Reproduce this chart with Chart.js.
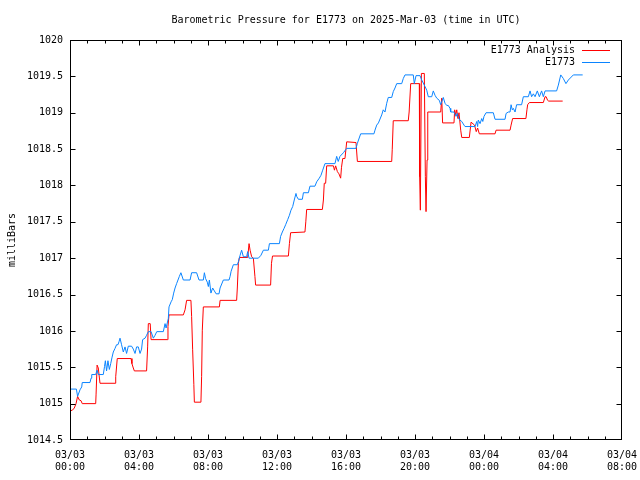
<!DOCTYPE html>
<html>
<head>
<meta charset="utf-8">
<script src="https://cdn.jsdelivr.net/npm/chart.js@4.4.1/dist/chart.umd.min.js"></script>
<style>
  html, body { margin: 0; padding: 0; background: #fff; }
  #wrap { width: 640px; height: 480px; position: relative; }
</style>
</head>
<body>
<div id="wrap"><canvas id="chart" width="640" height="480"></canvas></div>
<script>
// hours since 03/03 00:00 UTC, pressure in mbar
const analysisHours = [
  0.00, 0.14, 0.25, 0.35, 0.44, 0.54, 0.64, 0.71, 1.49, 1.51, 1.57, 1.64, 1.74, 2.61, 2.65, 2.74,
  3.54, 3.59, 3.67, 3.73, 4.44, 4.50, 4.54, 4.65, 4.70, 5.64, 5.68, 5.74, 6.57, 6.67, 6.76, 7.01,
  7.05, 7.11, 7.18, 7.21, 7.59, 7.63, 7.67, 7.73, 8.66, 8.70, 9.66, 9.70, 9.76, 9.82, 10.30, 10.38,
  10.44, 10.53, 10.63, 10.72, 10.76, 11.63, 11.68, 11.74, 12.66, 12.72, 12.79, 13.62, 13.67, 13.72,
  14.63, 14.69, 14.74, 14.82, 14.88, 15.27, 15.33, 15.40, 15.50, 15.59, 15.69, 15.74, 15.81, 15.94,
  16.04, 16.58, 16.66, 18.65, 18.68, 18.74, 19.61, 19.66, 19.75, 20.25, 20.27, 20.31, 20.37, 20.54,
  20.60, 20.64, 20.70, 20.74, 21.49, 21.55, 21.60, 22.26, 22.30, 22.36, 22.42, 22.49, 22.55, 22.65,
  22.71, 23.15, 23.25, 23.45, 23.55, 23.63, 23.73, 24.64, 24.70, 25.51, 25.57, 25.66, 26.43, 26.49,
  26.53, 26.63, 27.44, 27.54, 27.60, 27.69, 27.75, 28.56
];
const analysisMbar = [
  1014.90, 1014.91, 1014.94, 1015.00, 1015.10, 1015.05, 1015.04, 1015.00, 1015.00, 1015.12, 1015.53, 1015.49, 1015.28, 1015.28, 1015.37, 1015.62,
  1015.62, 1015.55, 1015.49, 1015.45, 1015.45, 1015.78, 1016.10, 1016.10, 1015.88, 1015.88, 1016.06, 1016.22, 1016.22, 1016.29, 1016.42, 1016.42,
  1016.20, 1015.74, 1015.26, 1015.02, 1015.02, 1015.37, 1016.01, 1016.33, 1016.33, 1016.42, 1016.42, 1016.59, 1016.93, 1017.01, 1017.01, 1017.20,
  1017.11, 1017.02, 1017.00, 1016.75, 1016.63, 1016.63, 1016.93, 1017.03, 1017.03, 1017.20, 1017.35, 1017.36, 1017.50, 1017.67,
  1017.67, 1017.80, 1018.03, 1018.03, 1018.27, 1018.27, 1018.21, 1018.27, 1018.19, 1018.16, 1018.10, 1018.25, 1018.37, 1018.37,
  1018.60, 1018.59, 1018.33, 1018.33, 1018.49, 1018.89, 1018.89, 1019.01, 1019.40, 1019.40, 1018.12, 1017.66, 1019.54, 1019.54,
  1018.12, 1017.64, 1018.35, 1019.01, 1019.01, 1019.20, 1018.86, 1018.86, 1019.04, 1018.97, 1019.04, 1018.92, 1019.00, 1018.76,
  1018.66, 1018.66, 1018.87, 1018.83, 1018.74, 1018.79, 1018.71, 1018.71, 1018.76, 1018.76, 1018.83, 1018.92, 1018.92, 1019.04,
  1019.11, 1019.14, 1019.14, 1019.22, 1019.22, 1019.17, 1019.16, 1019.16
];

const sensorHours = [
  0.00, 0.37, 0.44, 0.58, 0.68, 0.71, 1.16, 1.22, 1.26, 1.49, 1.57, 1.64, 1.93, 2.00, 2.05, 2.12,
  2.20, 2.28, 2.36, 2.44, 2.51, 2.61, 2.70, 2.78, 2.84, 2.90, 2.99, 3.09, 3.19, 3.28, 3.38, 3.57,
  3.67, 3.77, 3.86, 3.96, 4.06, 4.15, 4.21, 4.35, 4.44, 4.54, 4.70, 4.83, 4.93, 5.03, 5.41, 5.51,
  5.57, 5.70, 5.74, 5.86, 5.93, 6.01, 6.09, 6.18, 6.34, 6.43, 6.57, 6.96, 7.05, 7.34, 7.48, 7.73,
  7.79, 7.86, 7.96, 8.02, 8.08, 8.17, 8.27, 8.37, 8.47, 8.64, 8.70, 8.89, 9.22, 9.28, 9.34, 9.47,
  9.70, 9.76, 9.86, 9.95, 10.05, 10.24, 10.30, 10.38, 10.92, 11.07, 11.21, 11.50, 11.56, 12.14,
  12.21, 12.31, 12.41, 12.50, 12.62, 12.72, 12.81, 12.91, 13.00, 13.10, 13.14, 13.24, 13.47, 13.53,
  13.82, 13.91, 14.20, 14.30, 14.45, 14.55, 14.65, 14.78, 15.36, 15.46, 15.55, 15.65, 15.85, 16.04,
  16.58, 16.66, 16.85, 17.62, 17.68, 17.78, 17.88, 18.07, 18.16, 18.26, 18.36, 18.45, 18.65, 18.74,
  18.84, 18.94, 19.23, 19.32, 19.42, 19.90, 19.96, 20.06, 20.29, 20.39, 20.58, 20.68, 20.77, 20.97,
  21.06, 21.16, 21.26, 21.41, 21.49, 21.64, 21.74, 21.84, 21.93, 22.03, 22.07, 22.26, 22.38, 22.45,
  22.55, 22.71, 22.84, 22.90, 23.48, 23.58, 23.63, 23.67, 23.77, 23.87, 23.93, 24.00, 24.12, 24.54,
  24.64, 25.22, 25.28, 25.41, 25.51, 25.57, 25.64, 25.70, 25.80, 25.89, 26.18, 26.28, 26.57, 26.67,
  26.76, 26.86, 26.96, 27.09, 27.21, 27.34, 27.44, 27.54, 28.21, 28.31, 28.45, 28.60, 28.75, 28.89,
  29.18, 29.72
];
const sensorMbar = [
  1015.20, 1015.20, 1015.10, 1015.19, 1015.23, 1015.29, 1015.29, 1015.35, 1015.40, 1015.40, 1015.46, 1015.40, 1015.40, 1015.51, 1015.59, 1015.45,
  1015.59, 1015.47, 1015.55, 1015.64, 1015.71, 1015.76, 1015.81, 1015.81, 1015.85, 1015.90, 1015.81, 1015.71, 1015.78, 1015.69, 1015.79, 1015.79,
  1015.75, 1015.69, 1015.78, 1015.78, 1015.69, 1015.75, 1015.88, 1015.90, 1015.94, 1015.99, 1015.99, 1015.90, 1015.94, 1015.99, 1015.99, 1016.10,
  1016.04, 1016.17, 1016.33, 1016.40, 1016.43, 1016.52, 1016.59, 1016.65, 1016.75, 1016.80, 1016.70, 1016.70, 1016.80, 1016.80, 1016.70, 1016.70,
  1016.80, 1016.72, 1016.67, 1016.61, 1016.70, 1016.52, 1016.59, 1016.55, 1016.51, 1016.51, 1016.59, 1016.70, 1016.70, 1016.75, 1016.82, 1016.91,
  1016.91, 1016.95, 1017.04, 1017.11, 1017.02, 1017.02, 1017.09, 1017.00, 1017.00, 1017.04, 1017.11, 1017.11, 1017.20, 1017.20,
  1017.30, 1017.36, 1017.41, 1017.46, 1017.53, 1017.59, 1017.66, 1017.71, 1017.80, 1017.89, 1017.85, 1017.81, 1017.81, 1017.90,
  1017.90, 1017.99, 1017.99, 1018.05, 1018.10, 1018.14, 1018.21, 1018.30, 1018.30, 1018.40, 1018.33, 1018.40, 1018.45, 1018.51,
  1018.51, 1018.58, 1018.71, 1018.71, 1018.76, 1018.83, 1018.86, 1018.97, 1019.04, 1019.01, 1019.13, 1019.21, 1019.21, 1019.29,
  1019.34, 1019.40, 1019.40, 1019.47, 1019.52, 1019.52, 1019.40, 1019.51, 1019.51, 1019.45, 1019.36, 1019.31, 1019.22, 1019.22,
  1019.30, 1019.24, 1019.20, 1019.17, 1019.11, 1019.21, 1019.13, 1019.10, 1019.10, 1019.06, 1019.01, 1019.01, 1018.95, 1018.99,
  1018.91, 1018.88, 1018.83, 1018.81, 1018.81, 1018.88, 1018.81, 1018.90, 1018.85, 1018.92, 1018.88, 1018.95, 1019.00, 1019.00,
  1018.91, 1018.91, 1018.99, 1019.01, 1019.01, 1019.11, 1019.04, 1019.06, 1019.01, 1019.11, 1019.11, 1019.22, 1019.22, 1019.30,
  1019.22, 1019.26, 1019.22, 1019.30, 1019.22, 1019.30, 1019.22, 1019.30, 1019.30, 1019.38, 1019.52, 1019.47, 1019.40, 1019.45,
  1019.52, 1019.52
];

const seriesNames = ["E1773 Analysis", "E1773"];
const seriesColors = ["#ff0000", "#0a84ff"];
const dayLabels = ["03/03", "03/04", "03/05"];
const titleText = "Barometric Pressure for E1773 on 2025-Mar-03 (time in UTC)";
const yAxisTitle = "milliBars";

const FONT = "'DejaVu Sans Mono', 'Liberation Mono', monospace";

const pad2 = n => (n < 10 ? "0" : "") + n;
const toPoints = (xs, ys) => xs.map((x, i) => ({ x, y: ys[i] }));

// gnuplot-ish frame: box, inward ticks on all sides, title, ylabel, legend
const framePlugin = {
  id: "frame",
  afterDraw(chart) {
    const { ctx, chartArea: a, scales } = chart;
    const L = Math.round(a.left) + 0.5, R = Math.round(a.right) - 0.5;
    const T = Math.round(a.top) + 0.5, B = Math.round(a.bottom) - 0.5;
    ctx.save();
    ctx.strokeStyle = "#000";
    ctx.lineWidth = 1;
    ctx.strokeRect(L, T, R - L, B - T);

    ctx.beginPath();
    const xs = scales.x;
    for (let h = xs.min; h <= xs.max; h += 1) {
      const px = Math.min(Math.round(xs.getPixelForValue(h)) + 0.5, R);
      const len = h % 4 === 0 ? 5 : 3;
      ctx.moveTo(px, B); ctx.lineTo(px, B - len);
      ctx.moveTo(px, T); ctx.lineTo(px, T + len);
    }
    const ys = scales.y;
    ys.ticks.forEach(t => {
      const py = Math.max(Math.min(Math.round(ys.getPixelForValue(t.value)) + 0.5, B), T);
      ctx.moveTo(L, py); ctx.lineTo(L + 5, py);
      ctx.moveTo(R, py); ctx.lineTo(R - 5, py);
    });
    ctx.stroke();

    ctx.fillStyle = "#000";
    ctx.font = "10px " + FONT;
    ctx.textBaseline = "middle";
    ctx.textAlign = "center";
    ctx.fillText(titleText, (a.left + a.right) / 2, 20);

    ctx.save();
    ctx.translate(12, (a.top + a.bottom) / 2);
    ctx.rotate(-Math.PI / 2);
    ctx.fillText(yAxisTitle, 0, 0);
    ctx.restore();

    ctx.textAlign = "right";
    seriesNames.forEach((name, i) => {
      const y = 50.5 + i * 12;
      ctx.fillStyle = "#000";
      ctx.fillText(name, 575, y);
      ctx.strokeStyle = seriesColors[i];
      ctx.beginPath();
      ctx.moveTo(582, y);
      ctx.lineTo(610, y);
      ctx.stroke();
    });
    ctx.restore();
  }
};

new Chart(document.getElementById("chart"), {
  type: "line",
  data: {
    datasets: [
      {
        label: seriesNames[0],
        data: toPoints(analysisHours, analysisMbar),
        borderColor: seriesColors[0],
        borderWidth: 1,
        pointRadius: 0,
        tension: 0,
        order: 2,
      },
      {
        label: seriesNames[1],
        data: toPoints(sensorHours, sensorMbar),
        borderColor: seriesColors[1],
        borderWidth: 1,
        pointRadius: 0,
        tension: 0,
        order: 1,
      },
    ],
  },
  options: {
    responsive: false,
    animation: false,
    events: [],
    layout: { padding: { top: 40, right: 18, left: 0, bottom: 0 } },
    plugins: {
      legend: { display: false },
      title: { display: false },
      tooltip: { enabled: false },
    },
    scales: {
      x: {
        type: "linear",
        min: 0,
        max: 32,
        afterFit: s => { s.height = 40; s.paddingLeft = 0; s.paddingRight = 0; },
        grid: { display: false, drawTicks: false },
        border: { display: false },
        ticks: {
          stepSize: 4,
          autoSkip: false,
          maxRotation: 0,
          padding: 9,
          color: "#000",
          font: { family: FONT, size: 10 },
          callback: v => [dayLabels[Math.floor(v / 24)], pad2(v % 24) + ":00"],
        },
      },
      y: {
        min: 1014.5,
        max: 1020,
        afterFit: s => { s.width = 70; s.paddingTop = 0; s.paddingBottom = 0; },
        grid: { display: false, drawTicks: false },
        border: { display: false },
        ticks: {
          stepSize: 0.5,
          padding: 7,
          color: "#000",
          font: { family: FONT, size: 10 },
          callback: v => String(Math.round(v * 10) / 10),
        },
      },
    },
  },
  plugins: [framePlugin],
});
</script>
</body>
</html>
